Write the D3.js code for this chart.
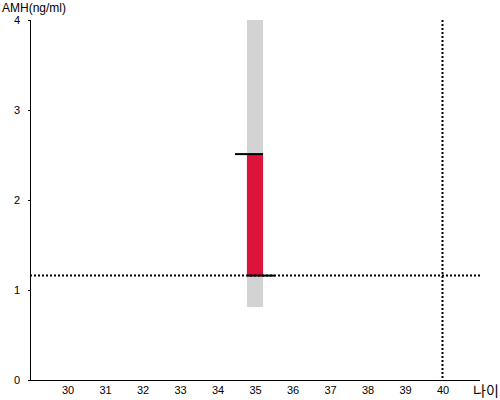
<!DOCTYPE html>
<html>
<head>
  <meta charset="utf-8">
  <title>AMH</title>
  <style>
   html, body { margin: 0; padding: 0; background: #fff; }
   text { font-family: "Liberation Sans", Arial, sans-serif; }
  </style>
</head>
<body>
  <div id="chart"></div>
  <script src="https://d3js.org/d3.v7.min.js"></script>
  <script>
// data
var xTicks = [30, 31, 32, 33, 34, 35, 36, 37, 38, 39, 40];
var yTicks = [0, 1, 2, 3, 4];
var age = 35;
var rangeLow = 0.81, rangeHigh = 4;     // grey band
var amhLow = 1.16, amhHigh = 2.51;      // red bar
var refAge = 40;
var refAmh = 1.16;

var width = 500, height = 400;
var margin = {left: 30, right: 20, top: 20, bottom: 20};

var svg = d3.select("#chart").append("svg")
  .attr("width", width)
  .attr("height", height);

var x = d3.scaleLinear().domain([29, 41]).range([margin.left, width - margin.right]);
var y = d3.scaleLinear().domain([0, 4]).range([height - margin.bottom, margin.top]);

var barW = x(age + 0.215) - x(age - 0.215);

// grey band
svg.append("rect")
  .attr("x", x(age) - barW / 2)
  .attr("y", y(rangeHigh))
  .attr("width", barW)
  .attr("height", y(rangeLow) - y(rangeHigh))
  .attr("fill", "#d3d3d3");

// red bar
svg.append("rect")
  .attr("x", x(age) - barW / 2)
  .attr("y", y(amhHigh))
  .attr("width", barW)
  .attr("height", y(amhLow) - y(amhHigh))
  .attr("fill", "#dc143c");

// markers on the bar ends
svg.append("line")
  .attr("x1", x(age) - barW / 2 - 12).attr("x2", x(age) + barW / 2)
  .attr("y1", y(amhHigh)).attr("y2", y(amhHigh))
  .attr("stroke", "black").attr("stroke-width", 2);
svg.append("line")
  .attr("x1", x(age) - barW / 2).attr("x2", x(age) + barW / 2 + 12)
  .attr("y1", y(amhLow)).attr("y2", y(amhLow))
  .attr("stroke", "black").attr("stroke-width", 2);

// reference lines
svg.append("line")
  .attr("x1", x(29)).attr("x2", x(41))
  .attr("y1", y(refAmh)).attr("y2", y(refAmh))
  .attr("stroke", "black").attr("stroke-width", 2)
  .attr("stroke-dasharray", "2,2");
svg.append("line")
  .attr("x1", x(refAge)).attr("x2", x(refAge))
  .attr("y1", y(4)).attr("y2", y(0))
  .attr("stroke", "black").attr("stroke-width", 2)
  .attr("stroke-dasharray", "2,2");

// x axis
var xAxis = svg.append("g")
  .attr("transform", "translate(0," + y(0) + ")")
  .call(d3.axisBottom(x).tickValues(xTicks).tickSize(0).tickPadding(6));
xAxis.select(".domain").attr("stroke", "black").attr("d", "M" + x(29) + ",0.5H" + x(41));
xAxis.selectAll("text").attr("font-size", 11).attr("fill", "black")
  .style("font-family", "'Liberation Sans', Arial, sans-serif");

// y axis
var yAxis = svg.append("g")
  .attr("transform", "translate(" + x(29) + ",0)")
  .call(d3.axisLeft(y).tickValues(yTicks).tickFormat(d3.format("d")).tickSize(2).tickPadding(8));
yAxis.select(".domain").attr("stroke", "black").attr("d", "M0.5," + y(4) + "V" + y(0));
yAxis.selectAll("text").attr("font-size", 11).attr("fill", "black")
  .style("font-family", "'Liberation Sans', Arial, sans-serif");

// axis titles
svg.append("text")
  .attr("x", 2).attr("y", 12)
  .attr("font-size", 12)
  .text("AMH(ng/ml)");
svg.append("text")
  .attr("x", 473).attr("y", 396)
  .attr("font-size", 14)
  .style("font-family", "'Noto Sans CJK KR', sans-serif")
  .text("나이");
  </script>
</body>
</html>
